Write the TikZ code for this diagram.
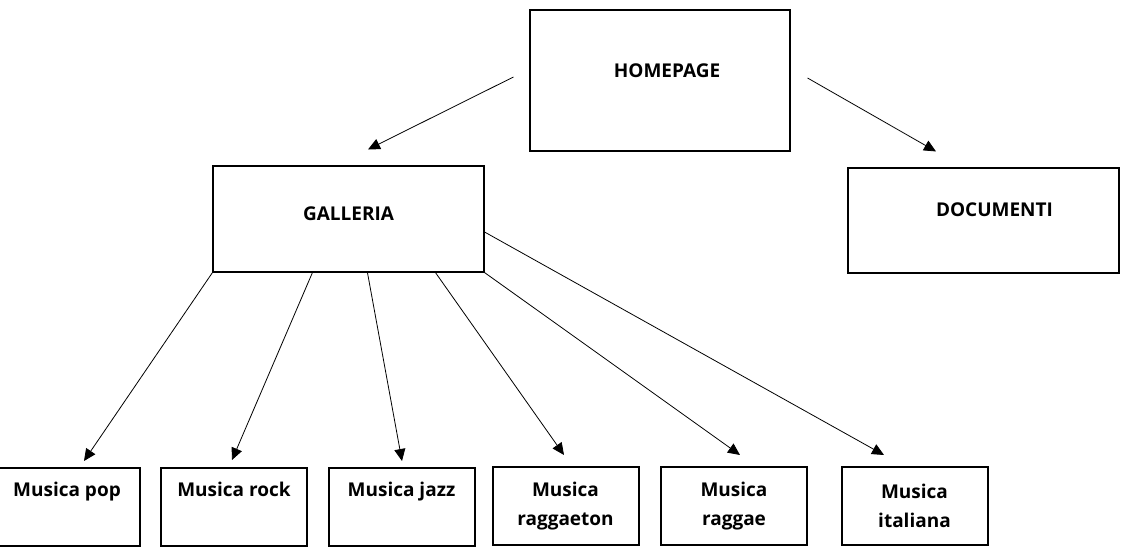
\documentclass[tikz,border=0pt]{standalone}
\usepackage{fontspec}
\newfontfamily\boxfont{Open Sans}
\usetikzlibrary{arrows.meta}

\begin{document}
\begin{tikzpicture}[x=1pt,y=-1pt,
    page/.style={rectangle, draw, line width=1.1pt, text height=13.5pt, font=\boxfont\bfseries\fontsize{19}{29.5}\selectfont},
    genre/.style={rectangle, draw, line width=2pt, minimum width=146pt, minimum height=78pt, align=center, font=\boxfont\bfseries\fontsize{19}{29.5}\selectfont},
    oneline/.style={text height=13.5pt, text depth=34pt},
    arrow/.style={-{Triangle[length=12pt,width=11pt]}, line width=0.8pt}]
\useasboundingbox (0,0) rectangle (1140,559);

% Pages
\node[page, minimum width=260pt, minimum height=141pt, text depth=19pt] (home) at (660,80.5) {\hspace*{14pt}HOMEPAGE};
\node[page, minimum width=271pt, minimum height=106pt, text depth=11pt] (gal) at (348.5,219) {GALLERIA};
\node[page, minimum width=271pt, minimum height=105pt, text depth=21pt] (doc) at (983.5,220.5) {\hspace*{22pt}DOCUMENTI};

% Genres
\node[genre, oneline] (pop) at (67,507) {Musica pop};
\node[genre, oneline] (rock) at (234,507) {Musica rock};
\node[genre, oneline] (jazz) at (401.5,507) {Musica jazz};
\node[genre] (reggaeton) at (565.5,506) {Musica\\raggaeton};
\node[genre] (reggae) at (734,506) {Musica\\raggae};
\node[genre] (ital) at (914.5,506) {Musica\\italiana};

% Connections
\draw[arrow] ([shift={(-16,-3.5)}]home.west) -- ([shift={(19.5,-16)}]gal.north);
\draw[arrow] ([shift={(17,-2.5)}]home.east) -- ([shift={(-47.5,-16)}]doc.north);
\draw[arrow] (gal.south west) -- ([shift={(17,-6)}]pop.north);
\draw[arrow] ([shift={(100,0)}]gal.south west) -- ([shift={(-2,-7)}]rock.north);
\draw[arrow] ([shift={(155,0)}]gal.south west) -- ([shift={(0.5,-6)}]jazz.north);
\draw[arrow] ([shift={(223,0)}]gal.south west) -- ([shift={(-1.5,-11)}]reggaeton.north);
\draw[arrow] (gal.south east) -- ([shift={(6,-11)}]reggae.north);
\draw[arrow] ([shift={(0,13)}]gal.east) -- ([shift={(-30.5,-11)}]ital.north);
\end{tikzpicture}
\end{document}
